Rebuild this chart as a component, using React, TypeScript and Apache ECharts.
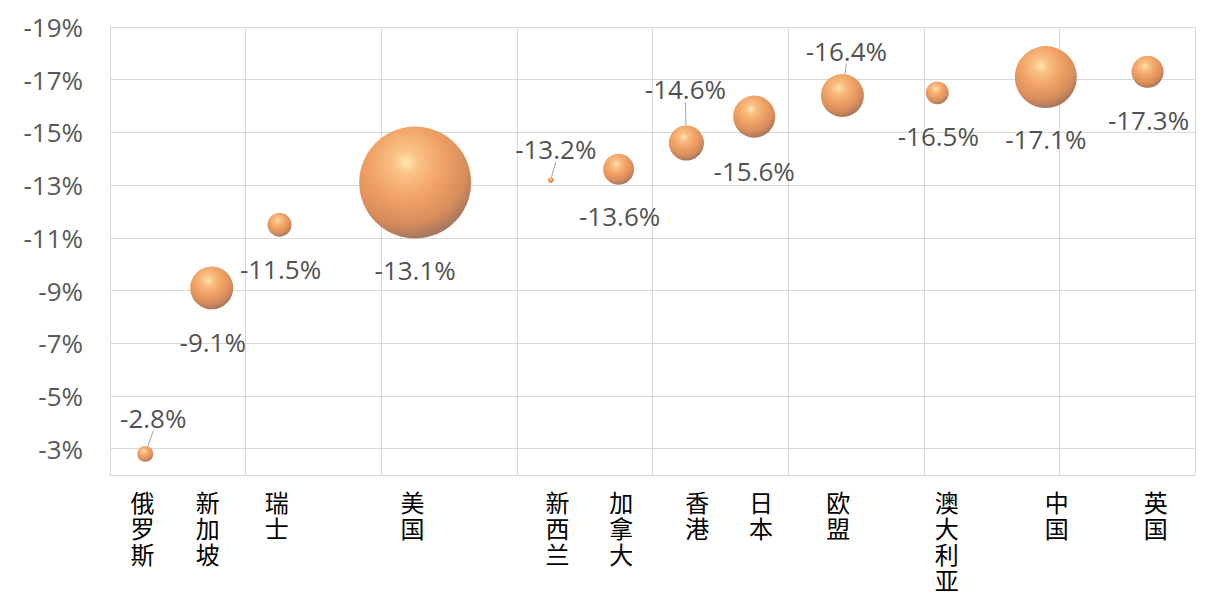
import React, { useEffect, useRef } from 'react';
import * as echarts from 'echarts';

// ---- data ----
const countries = ['俄罗斯', '新加坡', '瑞士', '美国', '新西兰', '加拿大', '香港', '日本', '欧盟', '澳大利亚', '中国', '英国'];
const xPositions = [0.26, 0.75, 1.25, 2.25, 3.25, 3.75, 4.25, 4.75, 5.4, 6.1, 6.9, 7.65];
const changes = [-2.8, -9.1, -11.5, -13.1, -13.2, -13.6, -14.6, -15.6, -16.4, -16.5, -17.1, -17.3];
const bubbleSizes = [2.0, 14.7, 4.6, 100, 0.3, 7.7, 9.8, 14.1, 14.7, 4.2, 30.6, 8.2];
const yTickValues = [-19, -17, -15, -13, -11, -9, -7, -5, -3];

// ---- layout / styling ----
// where each country's name sits along the x axis (axis units)
const categoryLabelX = [0.24, 0.72, 1.23, 2.23, 3.3, 3.77, 4.33, 4.8, 5.37, 6.17, 6.98, 7.71];
// data label offsets in px from bubble centre
const labelOffsets: number[][] = [
  [8, -36], [1, 54], [1, 44], [0, 88], [5, -31], [1, 47],
  [-1, -54], [0, 54], [4, -45], [1, 43], [0, 62], [1, 48],
];
const leaderLines = [true, false, false, false, true, false, true, false, true, false, false, false];

const MAX_DIAMETER = 112;

export default function App() {
  const ref = useRef<HTMLDivElement>(null);

  useEffect(() => {
    if (!ref.current) return;
    const chart = echarts.init(ref.current, null, { renderer: 'svg' });

    const bubbleColor = {
      type: 'radial',
      x: 0.42,
      y: 0.32,
      r: 0.78,
      colorStops: [
        { offset: 0, color: '#FFE6AC' },
        { offset: 0.14, color: '#FABD7C' },
        { offset: 0.42, color: '#F09A58' },
        { offset: 0.7, color: '#D4834E' },
        { offset: 0.88, color: '#9E6A50' },
        { offset: 1, color: '#B07A5C' },
      ],
    };

    const nameFor = (v: number) => {
      let best = 0;
      let bd = Infinity;
      categoryLabelX.forEach((x, i) => {
        const d = Math.abs(x - v);
        if (d < bd) { bd = d; best = i; }
      });
      return countries[best].split('').join('\n');
    };

    chart.setOption({
      animation: false,
      grid: { left: 110, right: 30, top: 27, bottom: 133, containLabel: false },
      xAxis: {
        type: 'value',
        min: 0,
        max: 8,
        interval: 1,
        axisLine: { show: true, lineStyle: { color: '#D9D9D9', width: 1 } },
        axisTick: { show: false },
        splitLine: { show: true, lineStyle: { color: '#D9D9D9', width: 1 } },
        axisLabel: {
          customValues: categoryLabelX,
          formatter: (v: number) => nameFor(v),
          color: '#000000',
          fontSize: 24,
          lineHeight: 26,
          fontFamily: '"Noto Sans CJK SC", sans-serif',
          margin: 13,
          verticalAlign: 'top',
        },
      },
      yAxis: {
        type: 'value',
        inverse: true,
        min: -19,
        max: -2,
        axisLine: { show: true, lineStyle: { color: '#D9D9D9', width: 1 } },
        axisTick: { show: false, customValues: yTickValues },
        splitLine: { show: true, lineStyle: { color: '#D9D9D9', width: 1 } },
        axisLabel: {
          customValues: yTickValues,
          formatter: (v: number) => `${v}%`,
          color: '#595959',
          fontSize: 26,
          fontFamily: '"Open Sans", sans-serif',
          margin: 27,
        },
      },
      series: [
        {
          type: 'scatter',
          symbol: 'circle',
          symbolSize: (val: number[]) => MAX_DIAMETER * Math.sqrt(val[2] / 100),
          itemStyle: { color: bubbleColor, opacity: 0.92 },
          label: {
            show: true,
            position: 'inside',
            formatter: (p: any) => `${p.value[1].toFixed(1)}%`,
            fontSize: 26,
            color: '#404040',
            fontFamily: '"Open Sans", sans-serif',
          },
          labelLine: { show: false, lineStyle: { color: '#A6A6A6', width: 1 } },
          data: countries.map((c, i) => ({
            name: c,
            value: [xPositions[i], changes[i], bubbleSizes[i]],
            label: { offset: labelOffsets[i] },
            labelLine: { show: leaderLines[i], lineStyle: { color: '#A6A6A6', width: 1 } },
          })),
        },
      ],
    });

    return () => chart.dispose();
  }, []);

  return (
    <div
      ref={ref}
      style={{ position: 'fixed', left: 0, top: 0, width: 1225, height: 608, background: '#ffffff' }}
    />
  );
}
